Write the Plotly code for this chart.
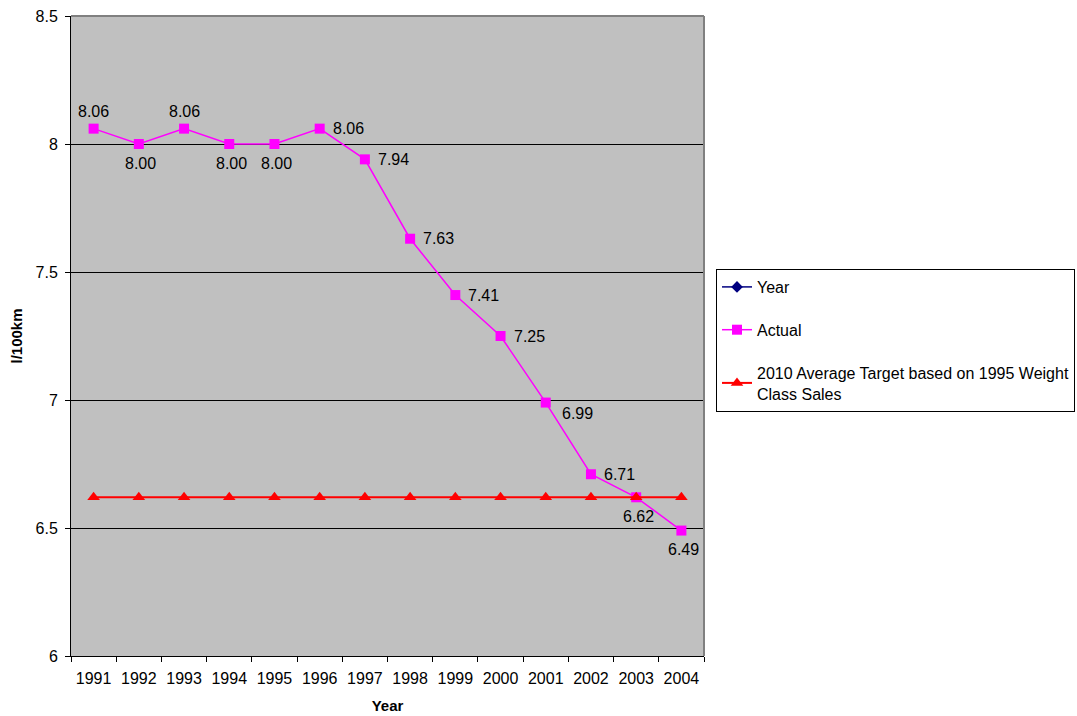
import plotly.graph_objects as go

years = ["1991", "1992", "1993", "1994", "1995", "1996", "1997",
         "1998", "1999", "2000", "2001", "2002", "2003", "2004"]
actual = [8.06, 8.00, 8.06, 8.00, 8.00, 8.06, 7.94,
          7.63, 7.41, 7.25, 6.99, 6.71, 6.62, 6.49]
target = [6.62] * 14
year_series = [None] * 14
label_pos = ["above", "below", "above", "below", "below", "right", "right",
             "right", "right", "right", "below-right", "right",
             "below", "below"]

FONT = "Liberation Sans, Arial, sans-serif"
FS = 16
L, R, T, B = 71, 704, 16, 656
W, H = 1077, 716

# pixel offsets of the value labels relative to their marker
LABEL_STYLE = {
    "above": dict(xshift=0, yshift=17, xanchor="center", yanchor="middle"),
    "below": dict(xshift=2, yshift=-19, xanchor="center", yanchor="middle"),
    "right": dict(xshift=11, yshift=0, xanchor="left", yanchor="middle"),
    "below-right": dict(xshift=14, yshift=-11, xanchor="left", yanchor="middle"),
}

fig = go.Figure()

fig.add_trace(go.Scatter(
    x=years, y=year_series, name="Year", mode="lines+markers",
    line=dict(color="#000080", width=1.5),
    marker=dict(symbol="diamond", size=9, color="#000080"),
    legendgroup="a",
))
fig.add_trace(go.Scatter(
    x=years, y=actual, name="Actual", mode="lines+markers",
    line=dict(color="#FF00FF", width=1.5),
    marker=dict(symbol="square", size=10, color="#FF00FF"),
    legendgroup="b",
))
fig.add_trace(go.Scatter(
    x=years, y=target,
    name="2010 Average Target based on 1995 Weight<br>Class Sales",
    mode="lines+markers",
    line=dict(color="#FF0000", width=2),
    marker=dict(symbol="triangle-up", size=11, color="#FF0000"),
    legendgroup="c",
))

# value labels; category axes place annotations by category index
for i, (v, pos) in enumerate(zip(actual, label_pos)):
    fig.add_annotation(x=i, y=v, xref="x", yref="y", text=f"{v:.2f}",
                       showarrow=False,
                       font=dict(family=FONT, size=FS, color="#000000"),
                       **LABEL_STYLE[pos])

# gray frame on top and right of the plot area
fig.add_shape(type="line", xref="paper", yref="paper", x0=0, x1=1, y0=1, y1=1,
              line=dict(color="#808080", width=2))
fig.add_shape(type="line", xref="paper", yref="paper", x0=1, x1=1, y0=0, y1=1,
              line=dict(color="#808080", width=2))

fig.update_layout(
    width=W, height=H,
    margin=dict(l=L, r=W - R, t=T, b=H - B, autoexpand=False),
    paper_bgcolor="white", plot_bgcolor="#C0C0C0",
    font=dict(family=FONT, size=FS, color="#000000"),
    showlegend=True,
    legend=dict(
        x=(716 - L) / (R - L), y=(B - 269) / (B - T),
        xanchor="left", yanchor="top",
        bgcolor="white", bordercolor="#000000", borderwidth=1,
        traceorder="grouped", tracegroupgap=19,
        font=dict(family=FONT, size=FS),
        itemwidth=30,
    ),
    xaxis=dict(
        type="category", range=[-0.5, 13.5], tickson="boundaries",
        ticks="outside", ticklen=5, tickcolor="#000000", tickangle=0,
        showline=True, linecolor="#000000", linewidth=1,
        showgrid=False, tickfont=dict(size=FS), ticklabelstandoff=8,
        automargin=False,
        title=dict(text="<b>Year</b>", font=dict(size=15), standoff=14),
    ),
    yaxis=dict(
        range=[6, 8.5], dtick=0.5, ticks="outside", ticklen=5,
        tickcolor="#000000", showline=True, linecolor="#000000", linewidth=1,
        showgrid=True, gridcolor="#000000", gridwidth=1, zeroline=False,
        tickfont=dict(size=FS), tickformat="~g", ticklabelstandoff=4,
        automargin=False,
        title=dict(text="<b>l/100km</b>", font=dict(size=15), standoff=9),
    ),
)

fig.write_html("out.html")
